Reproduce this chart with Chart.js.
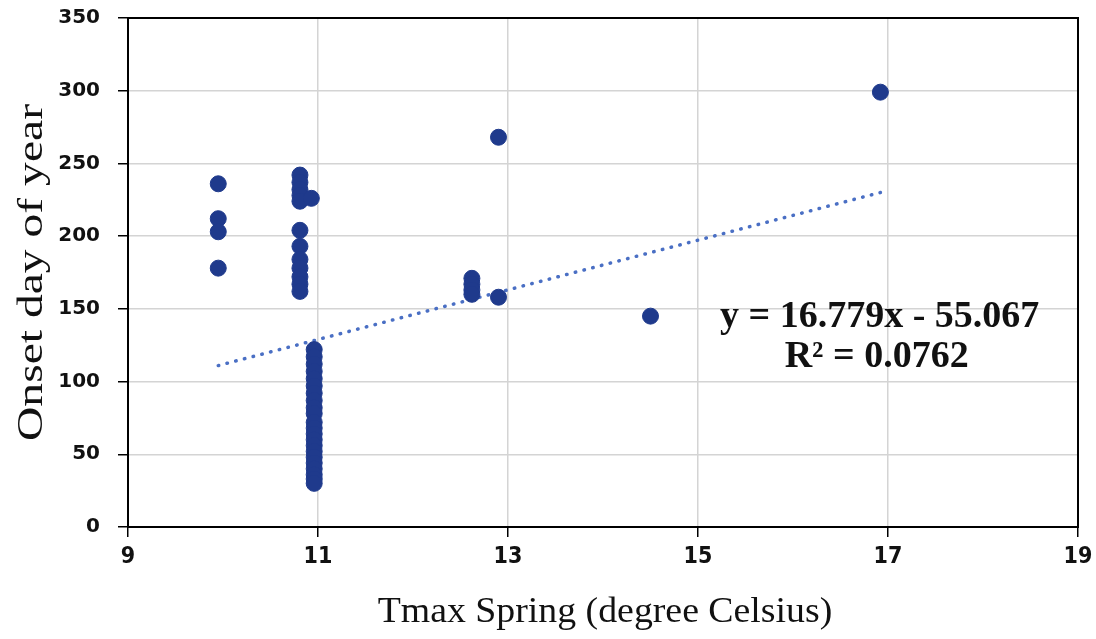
<!DOCTYPE html>
<html>
<head>
<meta charset="utf-8">
<script src="https://cdn.jsdelivr.net/npm/chart.js@4.4.1/dist/chart.umd.min.js"></script>
<style>
  html, body { margin: 0; padding: 0; background: #fff; }
  #wrap { width: 1096px; height: 639px; }
</style>
</head>
<body>
<div id="wrap"><canvas id="chart"></canvas></div>
<script>
// onset day vs spring Tmax
const tmaxA = [9.95, 9.95, 9.95, 9.95]
const onsetA = [236, 212, 203, 178]

const tmaxB = [10.81, 10.81, 10.81, 10.81, 10.81, 10.93, 10.81, 10.81, 10.81, 10.81, 10.81, 10.81, 10.81]
const onsetB = [242, 237, 232, 228, 224, 226, 204, 193, 184, 178, 172, 167, 162]

const tmaxC = [10.96, 10.96, 10.96, 10.96, 10.96, 10.96, 10.96, 10.96, 10.96, 10.96,
               10.96, 10.96, 10.96, 10.96, 10.96, 10.96, 10.96, 10.96, 10.96, 10.96, 10.96, 10.96]
const onsetC = [122, 117, 112, 107, 102, 97, 92, 87, 82, 78,
                72, 68, 64, 60, 56, 52, 48, 44, 40, 36, 33, 30]

const tmaxD = [12.62, 12.62, 12.62, 12.62, 12.9, 12.9, 14.5, 16.92]
const onsetD = [171, 167, 163, 160, 158, 268, 145, 299]

// linear trend endpoints as drawn
const trendX = [9.95, 16.92]
const trendY = [111, 230]

const xTicks = [9, 11, 13, 15, 17, 19]
const yTicks = [0, 50, 100, 150, 200, 250, 300, 350]

const xTitle = 'Tmax Spring (degree Celsius)'
const yTitle = 'Onset day of year'
const eqText = 'y = 16.779x - 55.067'
const r2Text = 'R² = 0.0762'

const tmax = [...tmaxA, ...tmaxB, ...tmaxC, ...tmaxD]
const onset = [...onsetA, ...onsetB, ...onsetC, ...onsetD]
const points = tmax.map((x, i) => ({ x: x, y: onset[i] }))
const trend = trendX.map((x, i) => ({ x: x, y: trendY[i] }))

const frame = {
  id: 'frame',
  beforeDatasetsDraw(chart) {
    const { ctx, chartArea: a } = chart
    ctx.save()
    ctx.strokeStyle = '#000'
    ctx.lineWidth = 2
    ctx.strokeRect(a.left, a.top, a.right - a.left, a.bottom - a.top)
    ctx.restore()
  }
}

// axis titles drawn by hand so they can be stretched like the original
const titles = {
  id: 'titles',
  afterDraw(chart) {
    const { ctx, chartArea: a } = chart
    ctx.save()
    ctx.fillStyle = '#111'
    ctx.textAlign = 'center'
    ctx.textBaseline = 'middle'
    ctx.font = '35px "Liberation Serif", serif'
    ctx.save()
    ctx.translate((a.left + a.right) / 2 + 2, 613)
    ctx.scale(1.08, 1)
    ctx.fillText(xTitle, 0, 0)
    ctx.restore()
    ctx.save()
    ctx.translate(33, (a.top + a.bottom) / 2)
    ctx.rotate(-Math.PI / 2)
    ctx.scale(1.36, 1)
    ctx.fillText(yTitle, 0, 0)
    ctx.restore()
    ctx.restore()
  }
}

const equation = {
  id: 'equation',
  afterDatasetsDraw(chart) {
    const { ctx, scales } = chart
    ctx.save()
    ctx.fillStyle = '#111'
    ctx.font = 'bold 38px "Liberation Serif", serif'
    ctx.textAlign = 'center'
    ctx.textBaseline = 'middle'
    const cx = scales.x.getPixelForValue(16.87)
    ctx.fillText(eqText, cx + 4, scales.y.getPixelForValue(144))
    ctx.fillText(r2Text, cx + 1, scales.y.getPixelForValue(117))
    ctx.restore()
  }
}

new Chart(document.getElementById('chart'), {
  type: 'scatter',
  data: {
    datasets: [
      {
        label: 'Onset',
        data: points,
        backgroundColor: '#1f3a8c',
        borderColor: '#1f3a8c',
        pointRadius: 8,
        pointHoverRadius: 8
      },
      {
        label: 'Trend',
        type: 'line',
        data: trend,
        showLine: true,
        borderColor: '#4a6fc4',
        borderWidth: 3.5,
        borderDash: [0.5, 8.5],
        borderCapStyle: 'round',
        pointRadius: 0,
        fill: false
      }
    ]
  },
  options: {
    responsive: true,
    maintainAspectRatio: false,
    animation: false,
    layout: { padding: { top: 18, right: 18, left: 0, bottom: 0 } },
    plugins: { legend: { display: false }, tooltip: { enabled: false } },
    scales: {
      x: {
        type: 'linear',
        min: 9, max: 19,
        afterBuildTicks: s => { s.ticks = xTicks.map(v => ({ value: v })) },
        afterFit: s => { s.height = 112; s.paddingLeft = 0; s.paddingRight = 0 },
        grid: { color: '#d4d4d4', lineWidth: 1.5, tickColor: '#000', tickLength: 10 },
        border: { display: true, color: '#000', width: 2 },
        ticks: {
          color: '#111',
          padding: 6,
          font: { family: '"DejaVu Sans Condensed", "DejaVu Sans", sans-serif', weight: 'bold', size: 23 }
        }
      },
      y: {
        min: 0, max: 350,
        afterBuildTicks: s => { s.ticks = yTicks.map(v => ({ value: v })) },
        afterFit: s => { s.width = 128; s.paddingTop = 0; s.paddingBottom = 0 },
        grid: { color: '#d4d4d4', lineWidth: 1.5, tickColor: '#000', tickLength: 10 },
        border: { display: true, color: '#000', width: 2 },
        ticks: {
          color: '#111',
          padding: 18,
          font: { family: '"DejaVu Sans", sans-serif', weight: 'bold', size: 20 }
        }
      }
    }
  },
  plugins: [frame, titles, equation]
})
</script>
</body>
</html>
